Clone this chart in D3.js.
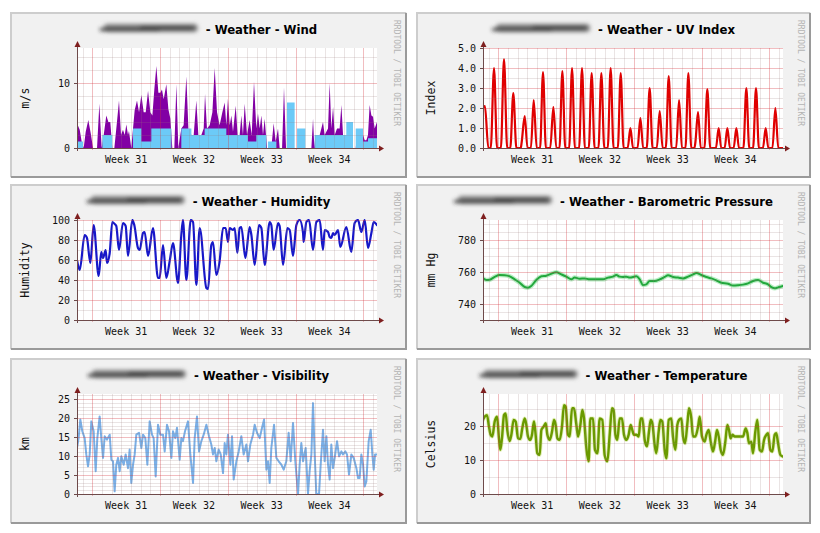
<!DOCTYPE html>
<html>
<head>
<meta charset="utf-8">
<script src="https://cdn.jsdelivr.net/npm/d3@7/dist/d3.min.js"></script>
<style>
  html, body { margin:0; padding:0; background:#ffffff; }
  svg { display:block; }
</style>
</head>
<body>
<svg id="chart" width="820" height="533" xmlns="http://www.w3.org/2000/svg"></svg>
<script>
// ---------------- DATA (time in days from graph start, value) ----------------
const spanDays = 31;
const week31Start = 1.58;            // Monday 00:00 of week 31, days after graph start
const weekLabels = ["Week 31", "Week 32", "Week 33", "Week 34"];

const windGust = [[0,3.8],[0.28,2.8],[0.48,1.0],[0.69,0],[0.90,2.5],[1.17,4.3],[1.45,2.0],[1.65,0],[2.07,0],[2.31,6.8],[2.55,0],[2.76,2.0],[3.03,5.0],[3.24,4.0],[3.44,4.0],[3.65,0],[3.86,0],[4.13,4],[4.34,7.3],[4.55,2],[4.75,2.8],[4.93,2.0],[5.10,3.6],[5.27,2.0],[5.37,2.6],[5.61,0],[5.79,3],[5.96,5.8],[6.20,7.3],[6.41,5.5],[6.65,8.2],[6.89,5.5],[7.10,5.5],[7.34,8.8],[7.58,5.5],[7.79,5],[7.99,9],[8.20,12.6],[8.41,8.5],[8.61,8.5],[8.78,9],[8.96,7.5],[9.23,9.8],[9.44,6],[9.65,4.5],[9.85,0],[10.06,0],[10.27,9.8],[10.47,0],[10.78,3],[11.02,3.5],[11.30,11],[11.51,3],[11.82,2],[12.06,2],[12.33,7.3],[12.54,2],[12.85,2],[13.09,3],[13.23,8.3],[13.43,3],[13.71,3.5],[13.99,5.5],[14.23,12.3],[14.47,5.5],[14.74,3.5],[15.02,5.5],[15.26,7],[15.43,3.5],[15.60,7.6],[15.78,3.5],[15.95,5],[16.12,2.5],[16.40,6.5],[16.60,2],[16.81,2],[16.98,5],[17.15,2],[17.33,6.8],[17.57,2],[17.84,4.3],[18.05,2],[18.29,10.2],[18.53,3],[18.70,5.3],[18.88,3],[19.05,5],[19.22,2],[19.39,4.5],[19.64,0],[20.08,0],[20.32,3.8],[20.53,1],[20.77,3.0],[20.94,0],[21.19,0],[21.39,9.3],[21.60,0],[24.22,0],[24.39,4.5],[24.53,0],[24.63,2],[25.08,2],[25.42,4],[25.59,2],[25.94,3],[26.11,10],[26.28,3],[26.46,6.3],[26.63,2],[26.87,3],[27.14,3],[27.32,6.6],[27.49,2],[27.83,2],[28.35,2],[28.45,0],[28.80,0],[28.94,2],[29.56,2],[29.73,1.2],[29.90,1.2],[30.07,2],[30.24,6.6],[30.42,5],[30.59,4.8],[30.76,3],[31,4]];

const windAvg = [[0,1],[0.62,0],[2.62,2],[3.65,0],[5.79,3],[6.65,1],[7.68,3],[9.75,0],[10.78,3],[11.82,2],[13.19,3],[15.43,2],[17.67,1],[18.53,2],[19.57,0],[19.74,1],[20.60,0],[21.70,7],[22.49,0],[22.74,3],[23.60,0],[24.56,2],[27.83,4],[28.52,0],[28.80,3],[29.56,1],[30.07,1.5],[31,1.5]];

const uvIndex = [[0,2.0],[0.2,2.1],[0.55,0],[0.8,0],[1.14,4.0],[1.45,0],[1.85,0],[2.17,4.45],[2.5,0],[2.82,0],[3.13,2.75],[3.45,0],[3.9,0],[4.0,0.3],[4.31,1.6],[4.6,0],[4.95,0],[5.24,2.4],[5.55,0],[5.9,0],[6.2,3.8],[6.5,0],[6.95,0],[7.27,2.05],[7.58,0],[7.9,0],[8.2,3.85],[8.5,0],[8.9,0],[9.2,4.0],[9.5,0],[9.93,0],[10.23,4.0],[10.53,0],[10.93,0],[11.23,3.75],[11.53,0],[11.93,0],[12.23,3.75],[12.53,0],[12.89,0],[13.19,4.0],[13.49,0],[13.93,0],[14.23,3.75],[14.53,0],[14.95,0],[15.23,1.0],[15.5,0],[15.97,0],[16.26,1.5],[16.55,0],[16.92,0],[17.22,3.0],[17.52,0],[17.96,0],[18.26,1.85],[18.56,0],[18.89,0],[19.19,3.6],[19.49,0],[19.96,0],[20.26,2.4],[20.56,0],[20.92,0],[21.22,3.75],[21.52,0],[21.85,0],[21.95,0.3],[22.22,1.8],[22.5,0],[22.88,0],[23.18,2.95],[23.48,0],[24.07,0],[24.35,1.0],[24.62,0],[24.97,0],[25.25,1.0],[25.52,0],[25.9,0],[26.18,1.0],[26.45,0],[26.91,0],[27.21,3.0],[27.51,0],[27.91,0],[28.21,3.0],[28.51,0],[28.93,0],[29.21,1.0],[29.48,0],[29.91,0],[30.21,2.0],[30.51,0],[31,0]];

const humidity = [[0,60],[0.28,50],[0.79,85],[1.03,82],[1.38,57],[1.72,95],[2.24,44],[2.51,68],[2.69,62],[2.96,70],[3.10,57],[3.38,67],[3.65,98],[3.89,96],[4.06,94],[4.34,70],[4.75,97],[5.03,94],[5.27,64],[5.72,100],[5.92,95],[6.30,72],[6.48,70],[6.82,87],[6.99,88],[7.34,64],[7.85,92],[8.37,42],[8.54,42],[8.89,75],[9.23,42],[9.58,59],[9.92,77],[10.44,37],[10.78,85],[10.95,100],[11.30,40],[11.75,100],[11.99,98],[12.33,35],[12.68,92],[13.37,32],[13.54,31],[13.88,75],[14.05,78],[14.40,45],[14.74,59],[15.09,92],[15.36,92],[15.60,78],[15.78,92],[16.12,90],[16.29,92],[16.57,67],[16.81,92],[16.98,93],[17.40,62],[17.84,93],[18.02,85],[18.36,55],[18.81,95],[19.05,92],[19.39,55],[19.91,98],[20.08,95],[20.32,70],[20.77,97],[20.94,94],[21.29,55],[21.74,92],[21.98,90],[22.32,64],[22.67,95],[23.01,100],[23.36,87],[23.42,78],[23.70,98],[23.98,100],[24.39,70],[24.73,98],[25.08,100],[25.42,70],[25.59,90],[25.94,88],[26.11,83],[26.28,82],[26.46,87],[26.63,85],[26.97,90],[27.21,73],[27.83,93],[28.35,68],[28.69,97],[29.04,100],[29.38,88],[29.73,100],[30.07,72],[30.42,87],[30.66,98],[31,95]];

const pressure = [[0,756],[0.34,755],[0.69,755.2],[1.21,757],[1.72,758.1],[2.24,758],[2.76,757.3],[3.27,755.4],[3.79,753.3],[4.31,750.6],[4.65,750.2],[4.99,751.3],[5.51,755],[6.03,757.3],[6.54,757.7],[6.89,758.5],[7.58,759.8],[8.10,758.5],[8.61,757.1],[9.13,755.4],[9.47,756.5],[9.99,755.8],[10.51,756],[11.02,755.4],[11.71,755.4],[12.40,755.4],[12.92,756.5],[13.43,757.1],[13.78,758.1],[14.12,757.1],[14.47,756.9],[14.81,757.1],[15.16,756.5],[15.85,757.3],[16.19,755.4],[16.53,751.9],[16.88,752.3],[17.22,754.4],[17.74,754.4],[18.26,755.4],[18.77,756.9],[19.12,758],[19.63,756.9],[20.15,756.5],[20.67,756],[21.19,757.1],[21.70,758.5],[22.05,759.4],[22.56,758.1],[23.08,756.9],[23.60,756],[24.11,754.8],[24.63,753.3],[25.32,752.7],[25.84,751.5],[26.35,751.7],[26.87,752.1],[27.39,752.9],[27.90,754.4],[28.42,755],[28.94,753.3],[29.45,752.3],[29.80,750.6],[30.14,749.8],[30.49,750.4],[30.83,751],[31,751.2]];

const visibility = [[0,12.1],[0.17,14.7],[0.34,19.6],[0.55,16.5],[0.79,14.7],[0.96,10.4],[1.14,7.3],[1.31,10.4],[1.48,19.1],[1.72,16.5],[1.93,6.0],[2.10,14.7],[2.34,20.4],[2.51,14.7],[2.69,9.5],[2.86,15.2],[3.10,14.3],[3.38,15.6],[3.55,9.0],[3.72,8.6],[3.89,0.7],[4.06,7.7],[4.24,9.5],[4.41,6.0],[4.58,9.9],[4.82,7.7],[5.03,10.4],[5.27,6.8],[5.44,11.7],[5.61,2.9],[5.79,7.7],[5.96,10.4],[6.13,15.6],[6.41,16.1],[6.65,12.1],[6.82,15.6],[7.06,14.7],[7.27,7.7],[7.51,19.1],[7.75,15.6],[7.92,14.7],[8.13,4.6],[8.37,18.2],[8.61,15.6],[8.89,15.6],[9.06,11.2],[9.30,18.2],[9.51,16.5],[9.75,9.5],[9.92,16.5],[10.16,14.7],[10.33,17.4],[10.61,9.0],[10.78,14.7],[10.95,13.9],[11.16,16.5],[11.47,19.1],[11.71,10.4],[11.99,2.9],[12.16,14.7],[12.40,20.4],[12.61,11.2],[12.85,13.9],[13.09,15.6],[13.37,18.2],[13.64,15.2],[13.88,13.0],[14.05,10.4],[14.23,12.1],[14.40,8.6],[14.64,11.7],[14.85,10.4],[15.09,5.5],[15.26,13.4],[15.43,10.4],[15.60,15.6],[15.85,7.7],[16.02,15.2],[16.19,3.8],[16.47,8.6],[16.71,11.2],[16.98,15.2],[17.22,10.4],[17.50,13.0],[17.67,8.6],[17.91,13.0],[18.19,15.6],[18.36,18.2],[18.60,16.1],[18.88,14.7],[19.12,17.4],[19.33,19.6],[19.57,6.4],[19.74,8.6],[19.91,2.9],[20.08,12.1],[20.36,18.2],[20.60,9.5],[20.84,8.6],[21.12,7.7],[21.36,6.4],[21.63,8.6],[21.87,16.1],[22.08,8.6],[22.32,18.7],[22.56,8.6],[22.84,0],[23.01,7.7],[23.18,13.4],[23.36,8.6],[23.63,12.1],[23.87,0],[24.04,6.0],[24.22,10.4],[24.39,23.9],[24.56,10.4],[24.73,0],[25.01,0],[25.18,7.7],[25.42,16.9],[25.59,8.6],[25.77,15.2],[25.94,7.7],[26.11,3.8],[26.28,13.0],[26.46,6.8],[26.63,9.5],[26.87,13.9],[27.08,9.9],[27.32,11.2],[27.49,10.4],[27.73,11.2],[27.90,10.4],[28.11,5.1],[28.35,10.4],[28.59,9.5],[28.87,6.8],[29.04,4.2],[29.21,4.2],[29.38,10.4],[29.56,7.7],[29.73,2.0],[29.90,3.3],[30.14,13.9],[30.35,16.9],[30.52,10.4],[30.66,6.4],[30.80,10.4],[31,10.4]];

const temperature = [[0,21.8],[0.17,22.7],[0.41,23.2],[0.62,19.8],[0.79,17.4],[0.96,16.9],[1.21,21.3],[1.45,22.7],[1.65,16.4],[1.79,13.0],[1.96,16.4],[2.17,23.2],[2.34,23.7],[2.51,18.8],[2.76,15.6],[2.93,17.4],[3.17,21.8],[3.38,21.3],[3.62,16.4],[3.86,16.2],[4.06,19.3],[4.31,22.2],[4.48,20.3],[4.65,16.9],[4.89,15.9],[5.06,17.4],[5.27,21.3],[5.44,17.4],[5.61,12.0],[5.86,11.5],[6.03,18.8],[6.27,19.8],[6.48,20.8],[6.65,17.4],[6.89,15.9],[7.13,18.3],[7.34,21.8],[7.51,20.3],[7.68,16.4],[7.92,15.9],[8.16,19.8],[8.37,26.1],[8.54,25.7],[8.78,17.4],[8.96,16.9],[9.20,25.2],[9.40,25.2],[9.65,20.3],[9.82,16.9],[10.06,20.3],[10.27,24.7],[10.44,22.2],[10.68,13.5],[10.92,9.6],[11.09,22.2],[11.37,22.2],[11.57,13.0],[11.82,12.0],[12.06,22.2],[12.33,21.8],[12.57,11.5],[12.85,9.6],[13.09,17.4],[13.33,25.2],[13.50,24.7],[13.68,17.4],[13.88,15.9],[14.12,22.2],[14.36,22.2],[14.57,17.4],[14.81,15.9],[15.05,17.4],[15.26,20.3],[15.43,18.8],[15.60,17.4],[15.85,17.4],[16.09,16.9],[16.29,22.2],[16.47,22.2],[16.71,15.9],[16.95,14.0],[17.15,18.3],[17.33,21.8],[17.50,20.8],[17.74,14.4],[17.91,12.0],[18.15,18.3],[18.33,21.8],[18.53,21.3],[18.77,13.0],[18.95,10.5],[19.19,21.8],[19.46,22.2],[19.63,16.9],[19.88,13.0],[20.08,20.3],[20.26,21.8],[20.50,22.2],[20.67,16.9],[20.88,14.9],[21.12,20.8],[21.29,25.2],[21.53,22.2],[21.70,16.9],[21.94,16.9],[22.22,19.8],[22.39,22.7],[22.63,16.9],[22.91,15.4],[23.08,17.4],[23.32,18.8],[23.53,15.4],[23.77,12.5],[24.01,15.9],[24.18,18.8],[24.39,16.4],[24.56,13.0],[24.80,11.5],[25.04,15.4],[25.25,20.3],[25.42,18.8],[25.59,16.4],[25.77,17.4],[26.01,16.9],[26.35,16.9],[26.70,16.9],[26.87,16.9],[27.14,19.3],[27.32,17.9],[27.49,14.9],[27.73,15.4],[27.90,12.0],[28.14,18.3],[28.35,21.8],[28.59,13.0],[28.83,12.5],[29.04,15.9],[29.28,17.4],[29.45,17.9],[29.69,13.0],[29.90,12.5],[30.14,17.4],[30.31,17.9],[30.49,14.9],[30.73,11.5],[31,11.0]];

const titles   = ["- Weather - Wind", "- Weather - UV Index", "- Weather - Humidity", "- Weather - Barometric Pressure", "- Weather - Visibility", "- Weather - Temperature"];
const units    = ["m/s", "Index", "Humidity", "mm Hg", "km", "Celsius"];
const yDomains = [[0,15.38],[0,5],[0,100],[730,792.5],[0,26.3],[0,29.4]];
const yTicks   = [[0,10],[0,1,2,3,4,5],[0,20,40,60,80,100],[740,760,780],[0,5,10,15,20,25],[0,10,20]];
const yMinor   = [2, 0.5, 10, 5, 1, 5];
const credit   = "RRDTOOL / TOBI OETIKER";

// ---------------- LAYOUT ----------------
const colX = [10, 416], rowY = [12, 184, 358];
const panelW = [397, 395], panelH = 166;
const plotDX = 67, plotDY = 36, plotW = 300, plotH = 100;
const MONO = "'DejaVu Sans Mono', 'Liberation Mono', monospace";
const SANS = "'DejaVu Sans', 'Liberation Sans', sans-serif";

const svg = d3.select("#chart");
const defs = svg.append("defs");
defs.append("filter").attr("id","smear")
  .attr("x","-20%").attr("y","-150%").attr("width","140%").attr("height","400%")
  .append("feGaussianBlur").attr("stdDeviation", 2.2);

const majorDays = d3.range(5).map(k => week31Start + 7 * k);
const minorDays = d3.range(32).filter(k => (k - 1) % 7 !== 0)
  .map(k => week31Start - 1 + k).filter(d => d > 0 && d < spanDays);

const drawers = [
  (g, xs, ys) => {
    g.append("path").datum(windGust).attr("fill", "#8200a4")
      .attr("d", d3.area().x(d => xs(d[0])).y0(ys(0)).y1(d => ys(d[1])));
    g.append("path").datum(windAvg).attr("fill", "#6ccaf7")
      .attr("d", d3.area().curve(d3.curveStepAfter).x(d => xs(d[0])).y0(ys(0)).y1(d => ys(d[1])));
  },
  (g, xs, ys) => line(g, xs, ys, uvIndex, "#e00000", 2.2, d3.curveMonotoneX),
  (g, xs, ys) => line(g, xs, ys, humidity, "#1717c9", 2.2, d3.curveMonotoneX),
  (g, xs, ys) => { line(g, xs, ys, pressure, "#b9eec4", 4.5, d3.curveMonotoneX); line(g, xs, ys, pressure, "#22a83c", 2, d3.curveMonotoneX); },
  (g, xs, ys) => line(g, xs, ys, visibility, "#79afe7", 2, d3.curveLinear),
  (g, xs, ys) => { line(g, xs, ys, temperature, "rgba(200,225,120,0.55)", 4, d3.curveMonotoneX); line(g, xs, ys, temperature, "#6a9a00", 2.4, d3.curveMonotoneX); }
];

function line(g, xs, ys, data, color, w, curve) {
  g.append("path").datum(data).attr("fill", "none").attr("stroke", color)
    .attr("stroke-width", w).attr("stroke-linejoin", "round").attr("stroke-linecap", "round")
    .attr("d", d3.line().curve(curve).x(d => xs(d[0])).y(d => ys(d[1])));
}

titles.forEach((title, i) => {
  const col = i % 2, row = Math.floor(i / 2);
  const px = colX[col], py = rowY[row], pw = panelW[col];
  const g = svg.append("g");

  // panel background and 3D shades
  g.append("rect").attr("x", px).attr("y", py).attr("width", pw).attr("height", panelH).attr("fill", "#f1f1f1");
  g.append("path").attr("d", `M${px+1},${py+panelH-1}V${py+1}H${px+pw-1}`)
    .attr("fill", "none").attr("stroke", "#cdcdcd").attr("stroke-width", 2);
  g.append("path").attr("d", `M${px+1},${py+panelH-1}H${px+pw-1}V${py+1}`)
    .attr("fill", "none").attr("stroke", "#9a9a9a").attr("stroke-width", 2);

  const x0 = px + plotDX, x1 = x0 + plotW, yT = py + plotDY, yB = yT + plotH;
  const xs = d3.scaleLinear().domain([0, spanDays]).range([x0, x1]);
  const ys = d3.scaleLinear().domain(yDomains[i]).range([yB, yT]);

  g.append("rect").attr("x", x0).attr("y", yT).attr("width", plotW).attr("height", plotH).attr("fill", "#ffffff");

  const clipId = "clip" + i;
  defs.append("clipPath").attr("id", clipId).append("rect")
    .attr("x", x0).attr("y", yT - 1).attr("width", plotW).attr("height", plotH + 1);
  const dg = g.append("g").attr("clip-path", `url(#${clipId})`);
  drawers[i](dg, xs, ys);

  // grid (drawn over data, translucent, as rrdtool does)
  const grid = g.append("g").attr("shape-rendering", "crispEdges");
  const ticks = yTicks[i];
  const [lo, hi] = yDomains[i];
  const minorVals = d3.range(Math.ceil(lo / yMinor[i]), Math.floor(hi / yMinor[i]) + 1)
    .map(k => +(k * yMinor[i]).toFixed(4))
    .filter(v => v > lo && !ticks.some(t => Math.abs(t - v) < 1e-6));
  const minorCol = "rgba(150,120,120,0.2)", majorCol = "rgba(210,50,60,0.32)";
  grid.selectAll(".hmin").data(minorVals).join("line")
    .attr("x1", x0).attr("x2", x1).attr("y1", d => Math.round(ys(d)) + 0.5).attr("y2", d => Math.round(ys(d)) + 0.5)
    .attr("stroke", minorCol);
  grid.selectAll(".vmin").data(minorDays).join("line")
    .attr("x1", d => Math.round(xs(d)) + 0.5).attr("x2", d => Math.round(xs(d)) + 0.5).attr("y1", yT).attr("y2", yB)
    .attr("stroke", minorCol);
  grid.selectAll(".hmaj").data(ticks.filter(t => t > lo)).join("line")
    .attr("x1", x0).attr("x2", x1).attr("y1", d => Math.round(ys(d)) + 0.5).attr("y2", d => Math.round(ys(d)) + 0.5)
    .attr("stroke", majorCol);
  grid.selectAll(".vmaj").data(majorDays).join("line")
    .attr("x1", d => Math.round(xs(d)) + 0.5).attr("x2", d => Math.round(xs(d)) + 0.5).attr("y1", yT).attr("y2", yB + 2)
    .attr("stroke", majorCol);

  // axes with arrows
  const ax = g.append("g").attr("shape-rendering", "crispEdges");
  const axY = Math.round(yB) + 0.5, axX = Math.round(x0) + 0.5;
  ax.append("line").attr("x1", x0 - 3).attr("x2", x1 + 3).attr("y1", axY).attr("y2", axY).attr("stroke", "#6e4a4a");
  ax.append("line").attr("x1", axX).attr("x2", axX).attr("y1", yB + 3).attr("y2", yT - 2).attr("stroke", "#6e4a4a");
  ax.selectAll(".yt").data(ticks).join("line")
    .attr("x1", x0 - 3).attr("x2", x0).attr("y1", d => Math.round(ys(d)) + 0.5).attr("y2", d => Math.round(ys(d)) + 0.5)
    .attr("stroke", "#6e4a4a");
  g.append("path").attr("d", `M${x1+2},${axY-3}L${x1+7},${axY}L${x1+2},${axY+3}Z`).attr("fill", "#7f1f1f");
  g.append("path").attr("d", `M${axX-3},${yT-1}L${axX},${yT-7}L${axX+3},${yT-1}Z`).attr("fill", "#7f1f1f");

  // y tick labels
  const fmt = i === 1 ? d3.format(".1f") : d3.format("d");
  g.selectAll(".yl").data(ticks).join("text")
    .attr("x", x0 - 7).attr("y", d => ys(d) + 3.6)
    .attr("text-anchor", "end").attr("font-family", MONO).attr("font-size", 10).attr("fill", "#111")
    .text(d => fmt(d));

  // week labels
  g.selectAll(".wl").data(weekLabels).join("text")
    .attr("x", (d, k) => xs(week31Start + 3.5 + 7 * k)).attr("y", yB + 15)
    .attr("text-anchor", "middle").attr("font-family", MONO).attr("font-size", 10).attr("fill", "#111")
    .text(d => d);

  // unit label
  g.append("text").attr("transform", `translate(${px + 19},${(yT + yB) / 2}) rotate(-90)`)
    .attr("text-anchor", "middle").attr("font-family", MONO).attr("font-size", 11.5).attr("fill", "#111")
    .text(units[i]);

  // credit
  g.append("text").attr("transform", `translate(${px + pw - 13},${py + 8}) rotate(90)`)
    .attr("font-family", MONO).attr("font-size", 8).attr("fill", "#b4b4b4")
    .text(credit);

  // title with redacted (smeared) station name
  const tt = g.append("text").attr("y", py + 22).attr("font-family", SANS).attr("font-weight", "bold")
    .attr("font-size", 11.7).attr("fill", "#000").text(title);
  const tw = tt.node().getComputedTextLength();
  const blurW = 100, gap = 6;
  const sx = px + pw / 2 - (blurW + gap + tw) / 2;
  tt.attr("x", sx + blurW + gap);
  const sm = g.append("g").attr("filter", "url(#smear)");
  sm.append("rect").attr("x", sx + 4).attr("y", py + 12).attr("width", blurW - 6).attr("height", 8).attr("rx", 4).attr("fill", "#7e7e7e");
  sm.append("rect").attr("x", sx).attr("y", py + 16).attr("width", blurW * 0.6).attr("height", 3).attr("rx", 1.5).attr("fill", "#262626");
  sm.append("rect").attr("x", sx + blurW * 0.4).attr("y", py + 14).attr("width", blurW * 0.55).attr("height", 4).attr("rx", 2).attr("fill", "#3c3c3c");
});
</script>
</body>
</html>
